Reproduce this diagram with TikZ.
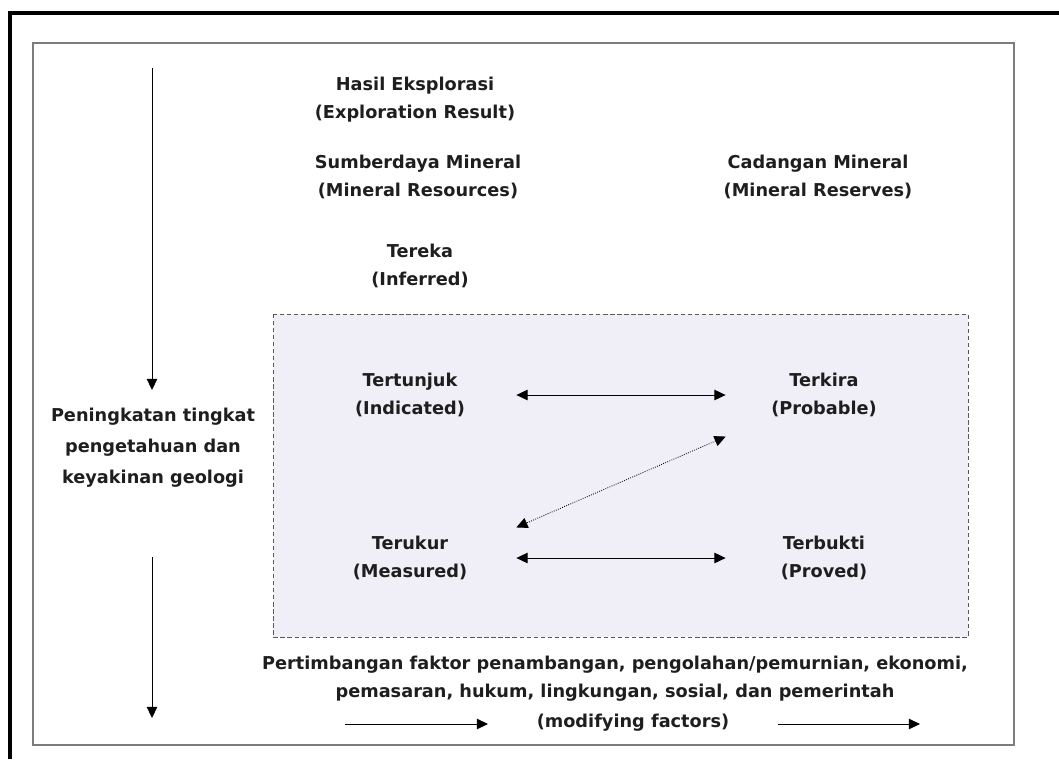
\documentclass[tikz,border=0pt]{standalone}
\usepackage{fontspec}
\setmainfont{DejaVu Sans}
\usetikzlibrary{arrows.meta}

\definecolor{txtgray}{RGB}{30,30,30}
\definecolor{boxfill}{RGB}{240,238,247}
\definecolor{framegray}{RGB}{125,125,125}

\begin{document}
\begin{tikzpicture}[x=0.025cm,y=-0.025cm,>={Triangle[length=8pt,width=7.5pt]},semithick,
                    main node/.style={align=center,text=txtgray,inner sep=1pt,font=\bfseries\fontsize{12.6}{20}\selectfont},
                    side node/.style={main node,font=\bfseries\fontsize{12.6}{22}\selectfont},
                    link/.style={<->,shorten >=1pt,shorten <=1pt}]

  \useasboundingbox (0,0) rectangle (1059,759);
  % frames
  \draw[line width=2.8pt] (10,759) -- (10,13) -- (1059,13);
  \draw[framegray,line width=1.3pt] (33,43) rectangle (1014,745);
  \draw[densely dashed,thin,draw=gray!70!black,fill=boxfill] (273,314) rectangle (968,637);

  \node[main node] (hasil) at (415,100) {Hasil Eksplorasi\\(Exploration Result)};
  \node[main node] (sumber) at (418,177) {Sumberdaya Mineral\\(Mineral Resources)};
  \node[main node] (cadangan) at (818,177) {Cadangan Mineral\\(Mineral Reserves)};
  \node[main node] (tereka) at (420,266) {Tereka\\(Inferred)};
  \node[main node] (tertunjuk) at (410,395) {Tertunjuk\\(Indicated)};
  \node[main node] (terkira) at (824,395) {Terkira\\(Probable)};
  \node[main node] (terukur) at (410,558) {Terukur\\(Measured)};
  \node[main node] (terbukti) at (824,558) {Terbukti\\(Proved)};

  \node[side node] (tingkat) at (153,448) {Peningkatan tingkat\\pengetahuan dan\\keyakinan geologi};
  \node[main node,font=\bfseries\fontsize{12.6}{20}\selectfont] (faktor) at (615,679)
    {Pertimbangan faktor penambangan, pengolahan/pemurnian, ekonomi,\\pemasaran, hukum, lingkungan, sosial, dan pemerintah};
  \node[main node] (modif) at (633,723) {(modifying factors)};

  \coordinate (k1) at (152,68);
  \coordinate (k2) at (152,390);
  \coordinate (k3) at (152,557);
  \coordinate (k4) at (152,718);
  \coordinate (m1) at (345,724);
  \coordinate (m2) at (920,724);

  \draw[->] (k1) -- (k2);
  \draw[->] (k3) -- (k4);
  \draw[->] (m1) -- (m1 -| 488,0);
  \draw[->] (m2 -| 778,0) -- (m2);

  \draw[link] (tertunjuk.east -| 515,0) -- (terkira.west -| 727,0);
  \draw[link] (terukur.east -| 515,0) -- (terbukti.west -| 727,0);
  \draw[link,densely dotted] (727,436) -- (515,528);
\end{tikzpicture}
\end{document}
